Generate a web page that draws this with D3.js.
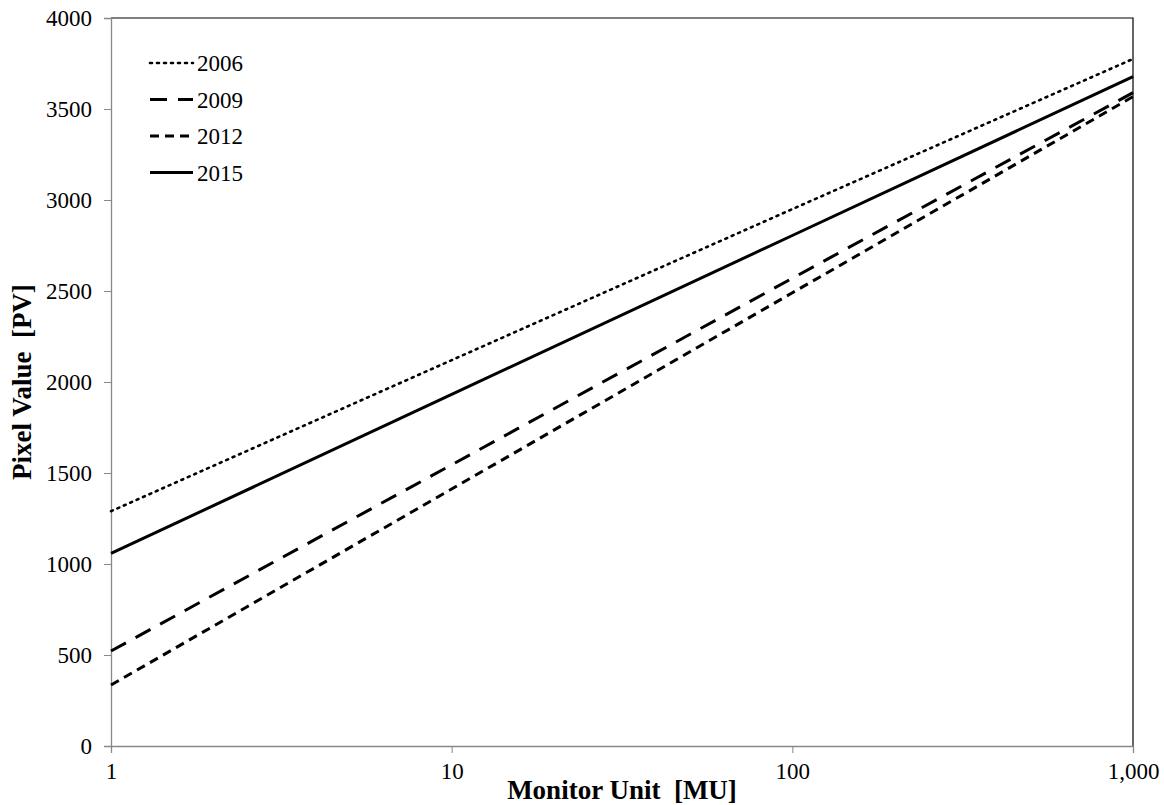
<!DOCTYPE html>
<html>
<head>
<meta charset="utf-8">
<script src="https://cdn.jsdelivr.net/npm/d3@7"></script>
<style>
  body { margin: 0; background: #fff; }
  text { font-family: "Liberation Serif", "Times New Roman", serif; fill: #000; }
</style>
</head>
<body>
<div id="chart"></div>
<script>
// data (straight lines on a log x axis)
const mu = [1, 10, 100, 1000];
const years = ['2006', '2009', '2012', '2015'];
const pv2006 = [1290, 2120, 2950, 3775];
const pv2009 = [522, 1545, 2570, 3590];
const pv2012 = [335, 1412, 2490, 3568];
const pv2015 = [1058, 1932, 2805, 3678];
const yTicks = [0, 500, 1000, 1500, 2000, 2500, 3000, 3500, 4000];
const xTicks = [1, 10, 100, 1000];

const series = [
    { name: years[0], values: pv2006, dash: '2,5', cap: 'round', width: 2.6 },
    { name: years[1], values: pv2009, dash: '17,11', cap: 'butt', width: 3 },
    { name: years[2], values: pv2012, dash: '9,6', cap: 'butt', width: 3 },
    { name: years[3], values: pv2015, dash: null, cap: 'butt', width: 3 }
];

const width = 1164, height = 805;
const margin = { top: 18, right: 31, bottom: 59, left: 111 };

const svg = d3.select('#chart').append('svg')
    .attr('width', width)
    .attr('height', height);

const x = d3.scaleLog([1, 1000], [margin.left, width - margin.right]);
const y = d3.scaleLinear([0, 4000], [height - margin.bottom, margin.top]);

// frame: top and right in black
svg.append('path')
    .attr('d', `M${x(1)},${y(4000)}H${x(1000)}V${y(0)}`)
    .attr('fill', 'none')
    .attr('stroke', '#000')
    .attr('stroke-width', 1.2);

// y axis
const yAxis = svg.append('g')
    .attr('transform', `translate(${margin.left},0)`)
    .call(d3.axisLeft(y).tickValues(yTicks).tickSize(7).tickPadding(12).tickFormat(d3.format('d')));
yAxis.select('.domain').attr('stroke', '#888').attr('stroke-width', 1.3);
yAxis.selectAll('.tick line').attr('stroke', '#888');
yAxis.selectAll('.tick text').style('font-size', '23px');

// x axis
const xAxis = svg.append('g')
    .attr('transform', `translate(0,${height - margin.bottom})`)
    .call(d3.axisBottom(x).tickValues(xTicks).tickSize(7).tickPadding(10).tickFormat(d3.format(',')));
xAxis.select('.domain').attr('stroke', '#888').attr('stroke-width', 1.3);
xAxis.selectAll('.tick line').attr('stroke', '#888');
xAxis.selectAll('.tick text').style('font-size', '23px');

// lines
const line = d3.line()
    .x((d, i) => x(mu[i]))
    .y(d => y(d));

svg.selectAll('.series')
    .data(series)
    .enter()
    .append('path')
    .attr('class', 'series')
    .attr('d', d => line(d.values))
    .attr('fill', 'none')
    .attr('stroke', '#000')
    .attr('stroke-width', d => d.width)
    .attr('stroke-linecap', d => d.cap)
    .attr('stroke-dasharray', d => d.dash);

// legend
const legend = svg.append('g').attr('transform', 'translate(150,63)');
series.forEach((s, i) => {
    const g = legend.append('g').attr('transform', `translate(0,${i * 36.5})`);
    g.append('line')
        .attr('x1', 0).attr('x2', 43)
        .attr('stroke', '#000')
        .attr('stroke-width', s.width)
        .attr('stroke-linecap', s.cap)
        .attr('stroke-dasharray', s.dash);
    g.append('text')
        .attr('x', 47)
        .attr('dy', '0.35em')
        .style('font-size', '23px')
        .text(s.name);
});

// axis titles
svg.append('text')
    .attr('x', (x(1) + x(1000)) / 2)
    .attr('y', 799)
    .attr('text-anchor', 'middle')
    .style('font-size', '27px')
    .style('font-weight', 'bold')
    .text('Monitor Unit\u00a0 [MU]');

svg.append('text')
    .attr('transform', `translate(31,${(y(0) + y(4000)) / 2}) rotate(-90)`)
    .attr('text-anchor', 'middle')
    .style('font-size', '27px')
    .style('font-weight', 'bold')
    .text('Pixel Value\u00a0 [PV]');
</script>
</body>
</html>
